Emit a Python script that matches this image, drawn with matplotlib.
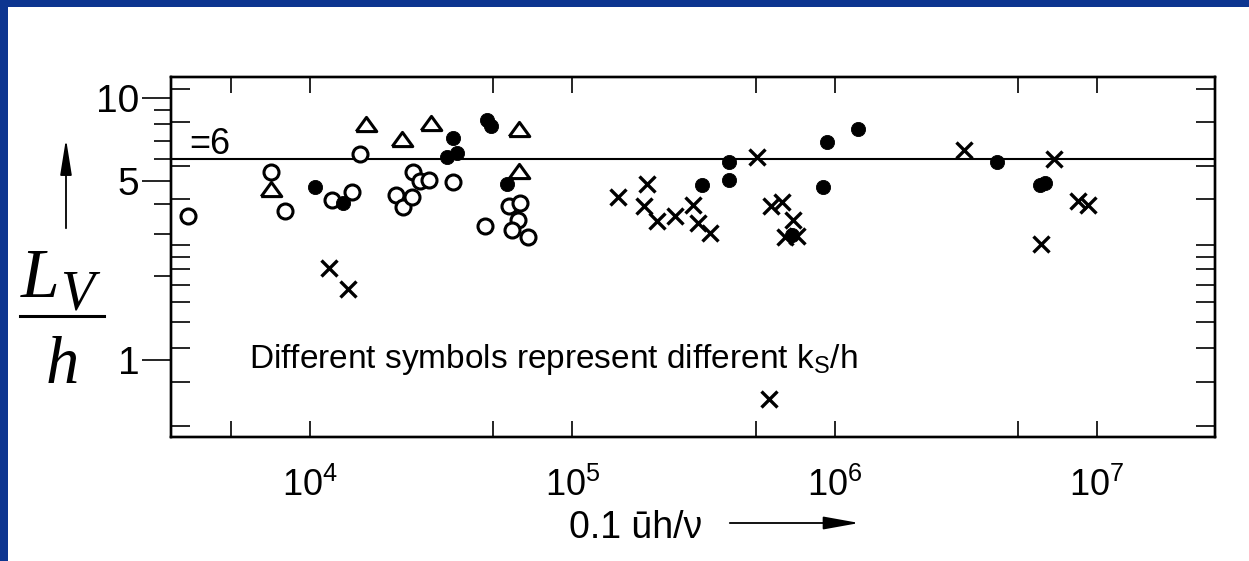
import numpy as np
import matplotlib
matplotlib.use("Agg")
import matplotlib.pyplot as plt
from matplotlib import font_manager as fm
from matplotlib.ticker import FixedLocator, FixedFormatter, NullLocator, NullFormatter
from matplotlib.patches import Rectangle, FancyArrowPatch
from matplotlib.lines import Line2D

# ---------------- data ----------------
open_x = [3412, 7070, 8030, 12160, 14460, 15510, 21270, 22620, 24420, 24760,
          26260, 28300, 35090, 46270, 57350, 63170, 61800, 59140, 67960]
open_y = [3.56, 5.40, 3.74, 4.18, 4.48, 6.26, 4.35, 3.89, 4.28, 5.39,
          5.00, 5.04, 4.97, 3.23, 3.94, 4.03, 3.43, 3.10, 2.92]

filled_x = [10490, 13400, 33290, 34990, 36340, 47080, 48770, 56200, 311300,
            396700, 396700, 686000, 902700, 939000, 1224000, 4147000, 6065000, 6336000]
filled_y = [4.72, 4.03, 6.09, 7.13, 6.29, 8.30, 7.89, 4.85, 4.81,
            5.87, 5.04, 2.97, 4.71, 6.90, 7.70, 5.84, 4.81, 4.92]

tri_x = [7100, 16310, 22420, 28870, 62890, 62510]
tri_y = [4.61, 8.06, 7.10, 8.11, 7.71, 5.44]

cross_x = [11820, 14000, 149700, 192100, 188100, 209700, 246200, 289100, 300600,
           334800, 508000, 574400, 630000, 695600, 646700, 721700, 562000,
           3112000, 6859000, 8488000, 9268000, 6103000]
cross_y = [2.15, 1.80, 4.30, 4.86, 3.93, 3.40, 3.57, 3.96, 3.34,
           3.03, 6.09, 3.93, 4.08, 3.43, 2.92, 2.94, 0.724,
           6.47, 5.99, 4.13, 3.96, 2.72]

ref_level = 6.0
ref_label = "=6"

xticks_major = [1e4, 1e5, 1e6, 1e7]
xtick_labels = [r"$\mathregular{10^{4}}$", r"$\mathregular{10^{5}}$",
                r"$\mathregular{10^{6}}$", r"$\mathregular{10^{7}}$"]
xticks_minor = [5e3, 5e4, 5e5, 5e6]

yticks_major = [1, 5, 10]
ytick_labels = ["1", "5", "10"]
yticks_outer = [2, 3, 4, 6, 7, 8, 9]
yticks_inner = [0.581, 0.838, 1.10, 1.37, 1.61, 1.85, 2.13, 2.40, 2.69,
                4.20, 5.66, 8.14, 10.73]

note_text = r"Different symbols represent different k$_\mathregular{S}$/h"
xlabel_text = "0.1 \u016bh/\u03bd"

# ---------------- fonts ----------------
names = {f.name for f in fm.fontManager.ttflist}
SANS = "Liberation Sans" if "Liberation Sans" in names else "DejaVu Sans"
NARROW = "Liberation Sans Narrow" if "Liberation Sans Narrow" in names else SANS
SERIF = "Liberation Serif" if "Liberation Serif" in names else "DejaVu Serif"
plt.rcParams["font.family"] = [SANS, "DejaVu Sans"]

# ---------------- scanned axis: piecewise log scale ----------------
AL = np.array([0.0, np.log10(2), np.log10(5), 1.0])
AS = np.array([0.0, 84.3, 179.0, 262.5])


def _pw(x, xp, fp):
    x = np.asarray(x, dtype=float)
    y = np.interp(x, xp, fp)
    lo = (fp[1] - fp[0]) / (xp[1] - xp[0])
    hi = (fp[-1] - fp[-2]) / (xp[-1] - xp[-2])
    y = np.where(x < xp[0], fp[0] + (x - xp[0]) * lo, y)
    y = np.where(x > xp[-1], fp[-1] + (x - xp[-1]) * hi, y)
    return y


def fwd(v):
    return _pw(np.log10(np.clip(np.asarray(v, dtype=float), 1e-6, None)), AL, AS)


def inv(s):
    return 10 ** _pw(s, AS, AL)


W, H = 1249, 561
BLUE = "#0d3590"
fig = plt.figure(figsize=(W / 100, H / 100), dpi=100, facecolor=BLUE)
fig.add_artist(Rectangle((8 / W, 0), 1 - 8 / W, 1 - 7 / H, transform=fig.transFigure,
                         facecolor="white", edgecolor="none", zorder=-10))

L, R, T, B = 170.7, 1215, 77.3, 437.3
ax = fig.add_axes([L / W, 1 - B / H, (R - L) / W, (B - T) / H])
ax.set_facecolor("white")

ax.set_xscale("log")
ax.set_yscale("function", functions=(fwd, inv))
ax.set_xlim(2944, 2.818e7)
ax.set_ylim(0.53, 11.83)

# reference line
ax.axhline(ref_level, color="black", lw=1.5, zorder=2)

ax.plot(open_x, open_y, linestyle="none", marker="o", ms=10.8, mfc="white",
        mec="black", mew=2.2, zorder=3)
ax.plot(filled_x, filled_y, linestyle="none", marker="o", ms=10.2, mfc="black",
        mec="black", mew=0.6, zorder=3)
tri_marker = [(-1, -0.69), (1, -0.69), (0, 0.69), (-1, -0.69)]
ax.plot(tri_x, tri_y, linestyle="none", marker=tri_marker, ms=14.8, mfc="white",
        mec="black", mew=2.2, zorder=3)
ax.plot(cross_x, cross_y, linestyle="none", marker="x", ms=11.3, mec="black",
        mew=2.4, zorder=3)

# x ticks
ax.xaxis.set_major_locator(FixedLocator(xticks_major))
ax.xaxis.set_major_formatter(FixedFormatter(xtick_labels))
ax.xaxis.set_minor_locator(FixedLocator(xticks_minor))
ax.xaxis.set_minor_formatter(NullFormatter())
ax.tick_params(axis="x", which="both", direction="in", length=11.5, width=1.2,
               top=True, bottom=True)
ax.tick_params(axis="x", which="major", labelsize=26, pad=22, labelfontfamily=NARROW)

# y ticks (outside, on the left)
ax.yaxis.set_major_locator(FixedLocator(yticks_major))
ax.yaxis.set_major_formatter(FixedFormatter(ytick_labels))
ax.yaxis.set_minor_locator(FixedLocator(yticks_outer))
ax.yaxis.set_minor_formatter(NullFormatter())
ax.tick_params(axis="y", which="major", direction="out", length=21, width=1.2,
               labelsize=28, pad=1.5, left=True, right=False)
ax.tick_params(axis="y", which="minor", direction="out", length=12.5, width=1.2,
               left=True, right=False)

for s in ax.spines.values():
    s.set_linewidth(1.7)

# inner y ticks on both sides
ax2 = ax.twinx()
ax2.set_yscale("function", functions=(fwd, inv))
ax2.set_ylim(ax.get_ylim())
ax2.yaxis.set_major_locator(FixedLocator(yticks_inner))
ax2.yaxis.set_major_formatter(NullFormatter())
ax2.yaxis.set_minor_locator(NullLocator())
ax2.tick_params(axis="y", which="major", direction="in", length=13.5, width=1.2,
                left=True, right=True, labelleft=False, labelright=False)
for s in ax2.spines.values():
    s.set_linewidth(1.7)

# texts
fig.text(189 / W, 1 - 154 / H, ref_label, fontsize=26, ha="left", va="baseline",
         family=[SANS, "DejaVu Sans"])
fig.text(249 / W, 1 - 368 / H, note_text, fontsize=24, ha="left", va="baseline",
         family=[SANS, "DejaVu Sans"])
fig.text(569 / W, 1 - 538 / H, xlabel_text, fontsize=27, ha="left", va="baseline",
         family=[NARROW, SANS, "DejaVu Sans"])
fig.add_artist(FancyArrowPatch(
    (727 / W, 1 - 523 / H), (862 / W, 1 - 523 / H), transform=fig.transFigure,
    arrowstyle="-|>,head_length=1.0,head_width=0.18", mutation_scale=22,
    lw=1.3, color="black"))

# y label  L_V / h
fig.text(21 / W, 1 - 297 / H, "L", fontsize=50, style="italic", family=SERIF,
         ha="left", va="baseline")
fig.text(60 / W, 1 - 310 / H, "V", fontsize=40, style="italic", family=SERIF,
         ha="left", va="baseline")
fig.add_artist(Line2D([20 / W, 104 / W], [1 - 316 / H, 1 - 316 / H],
                      transform=fig.transFigure, color="black", lw=2.2))
fig.text(62 / W, 1 - 383 / H, "h", fontsize=48, style="italic", family=SERIF,
         ha="center", va="baseline")
fig.add_artist(FancyArrowPatch(
    (66 / W, 1 - 231 / H), (66 / W, 1 - 136 / H), transform=fig.transFigure,
    arrowstyle="-|>,head_length=1.0,head_width=0.16", mutation_scale=22,
    lw=1.3, color="black"))

fig.savefig("out.png", dpi=100, facecolor=BLUE)
